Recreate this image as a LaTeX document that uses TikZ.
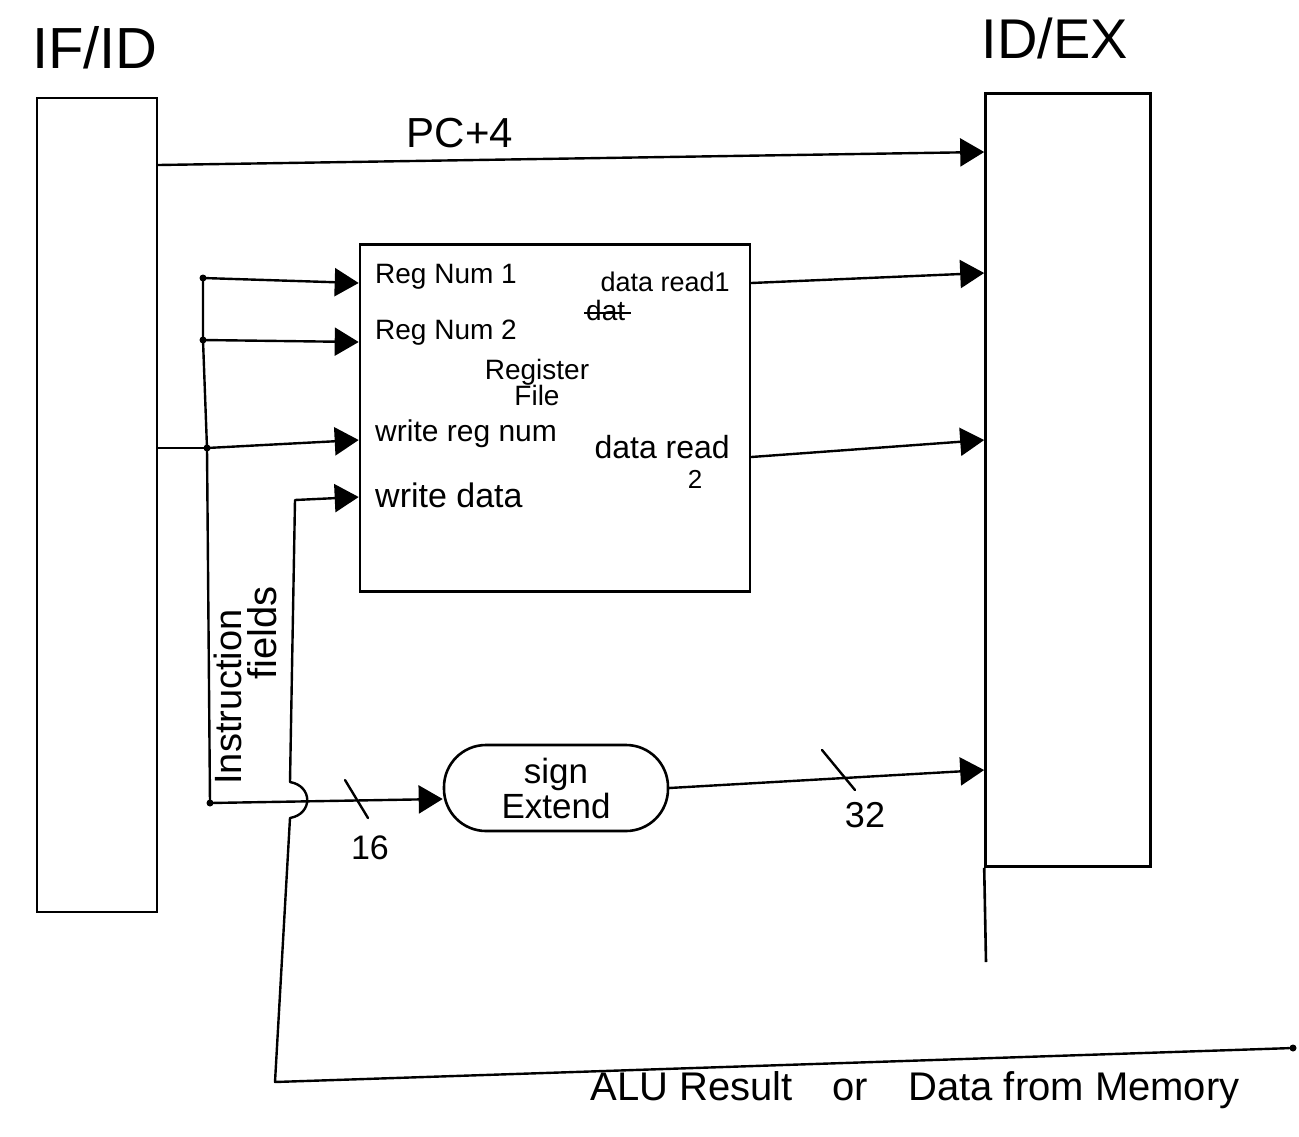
\documentclass[tikz,border=0pt]{standalone}
\usepackage{fontspec}
\setmainfont{Liberation Sans}
\usetikzlibrary{arrows.meta,calc}
\begin{document}
\begin{tikzpicture}[x=1pt,y=-1pt,
  wire/.style={line width=2.4pt,line join=round,line cap=round},
  arr/.style={wire,-{Triangle[length=24pt,width=28pt]}},
  blk/.style={draw,line width=2.6pt,inner sep=0},
  txt/.style={inner sep=0,font=\fontsize{#1}{#1}\selectfont},
  jdot/.style={circle,fill,inner sep=0,minimum size=7pt},
]
\useasboundingbox (0,0) rectangle (1299,1136);

% pipeline registers
\node[blk,minimum width=120,minimum height=814] (ifid) at (97,505) {};
\node[blk,minimum width=165,minimum height=773] (idex) at (1068,480) {};
\coordinate (idexext) at (986,962);
\draw[line width=2.6pt] (idex.south west) -- (idexext);
\node[txt=58] (lifid) at (95,48) {IF/ID};
\node[txt=56] (lidex) at (1055,38) {ID/EX};

% register file
\node[blk,minimum width=390,minimum height=347] (rf) at (555,418) {};
\node[txt=28,anchor=west] (r1) at (375,277) {Reg Num 1};
\node[txt=28,anchor=west] (r2) at (375,333) {Reg Num 2};
\node[txt=28,align=center] (rfname) at (537,382) {Register\\[-2pt]File};
\node[txt=30,anchor=west] (wrn) at (375,434) {write reg num};
\node[txt=34,anchor=west] (wd) at (375,495) {write data};
\node[txt=27,anchor=east] (dr1) at (730,282) {data read1};
\node[txt=28,anchor=west] (dat) at (586,310) {dat};
\draw[line width=2pt] (dat.west) ++(-2,3) -- ($(dat.east)+(6,3)$);
\node[txt=32,anchor=east] (dr2) at (730,447) {data read};
\node[txt=26] (dr2b) at (695,479) {2};

% sign extend
\node[draw,line width=2.6pt,rounded corners=42pt,minimum width=224,minimum height=86,
      align=center,font=\fontsize{35}{35}\selectfont] (se) at (556,788) {sign\\Extend};

% PC+4
\coordinate (pcs) at (157,165);
\coordinate (pce) at (985,152);
\draw[arr] (ifid.east |- pcs) -- (idex.west |- pce);
\node[txt=42] (lpc) at (460,133) {PC+4};

% instruction field bus
\coordinate (j1) at (203,278);
\coordinate (j2) at (203,340);
\coordinate (j3) at (207,448);
\coordinate (j4) at (210,803);
\draw[wire] (j1) -- (j2) -- (j3) -- (j4);
\draw[wire] (ifid.east |- j3) -- (j3);
\foreach \j in {j1,j2,j3,j4} \fill (\j) circle (3.5pt);
\draw[arr] (j1) -- (rf.west |- 0,283);
\draw[arr] (j2) -- (rf.west |- 0,342);
\draw[arr] (j3) -- (rf.west |- 0,440);
\draw[arr] (j4) -- (se.west |- 0,799);
\node[txt=38,rotate=90] (linst) at (228,697) {Instruction};
\node[txt=40,rotate=90] (lfld) at (262,633) {fields};

% width marks
\coordinate (s16a) at (345,780);
\coordinate (s16b) at (368,818);
\draw[wire] (s16a) -- (s16b);
\node[txt=34] (l16) at (370,848) {16};

% register file outputs
\draw[arr] (rf.east |- 0,283) -- (idex.west |- 0,273);
\draw[arr] (rf.east |- 0,457) -- (idex.west |- 0,440);

% sign extend output
\draw[arr] (se.east) -- (idex.west |- 0,770);
\coordinate (s32a) at (822,750);
\coordinate (s32b) at (855,790);
\draw[wire] (s32a) -- (s32b);
\node[txt=36] (l32) at (865,815) {32};

% write-back path
\node[jdot] (wb) at (1293,1048) {};
\draw[arr] (wb) -- (275,1082) -- (290,818)
  .. controls (313,814) and (313,786) .. (290,782)
  -- (295,500) -- (rf.west |- 0,497);
\node[txt=40] (lalu) at (915,1090) {ALU Result\quad or\quad Data from Memory};
\end{tikzpicture}
\end{document}
